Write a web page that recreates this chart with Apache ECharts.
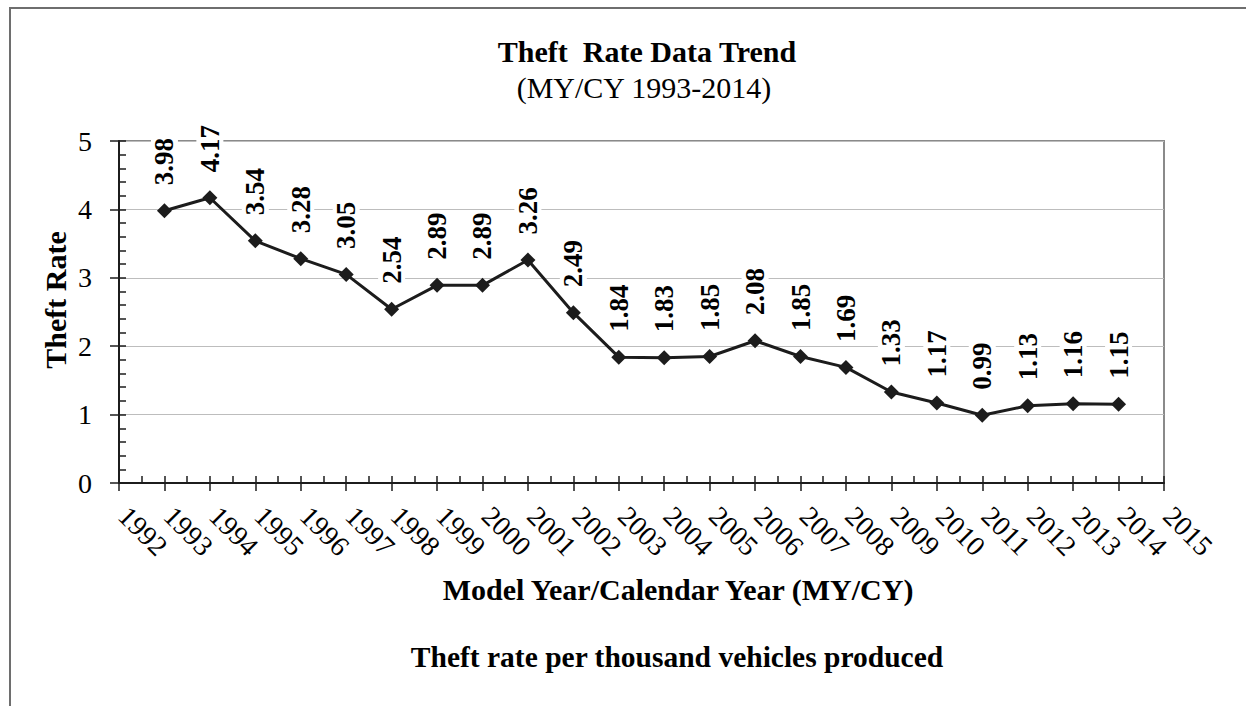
<!DOCTYPE html>
<html>
<head>
<meta charset="utf-8">
<script src="https://cdn.jsdelivr.net/npm/echarts@6/dist/echarts.min.js"></script>
<style>
  html, body { margin: 0; padding: 0; background: #fff; }
  #chart { width: 1246px; height: 706px; }
</style>
</head>
<body>
<div id="chart"></div>
<script>
// ---- Data ----
const years = [1993, 1994, 1995, 1996, 1997, 1998, 1999, 2000, 2001, 2002, 2003,
               2004, 2005, 2006, 2007, 2008, 2009, 2010, 2011, 2012, 2013, 2014];
const theftRates = [3.98, 4.17, 3.54, 3.28, 3.05, 2.54, 2.89, 2.89, 3.26, 2.49, 1.84,
                    1.83, 1.85, 2.08, 1.85, 1.69, 1.33, 1.17, 0.99, 1.13, 1.16, 1.15];
const xRange = [1992, 2015];
const yRange = [0, 5];
const titleText = 'Theft  Rate Data Trend';
const subtitleText = '(MY/CY 1993-2014)';
const yAxisTitle = 'Theft Rate';
const xAxisTitle = 'Model Year/Calendar Year (MY/CY)';
const footerText = 'Theft rate per thousand vehicles produced';

// ---- Chart ----
const FONT = "'Liberation Serif', 'Times New Roman', serif";
const DARK = '#1c1c1c';
const chart = echarts.init(document.getElementById('chart'), null, { renderer: 'svg' });

const seriesData = years.map((y, i) => [y, theftRates[i]]);

const option = {
  backgroundColor: '#ffffff',
  animation: false,
  grid: {
    left: 119, right: 82, top: 141, bottom: 223,
    show: true, borderColor: '#8a8a8a', borderWidth: 2, backgroundColor: 'transparent'
  },
  xAxis: [
    {
      type: 'value', min: xRange[0], max: xRange[1], interval: 1,
      axisLine: { show: true, onZero: false, lineStyle: { color: DARK, width: 2 } },
      axisTick: { show: true, inside: false, length: 8, lineStyle: { color: DARK, width: 1.5 } },
      minorTick: { show: false },
      splitLine: { show: false },
      axisLabel: {
        rotate: -45, margin: 24, padding: [0, 0, 0, 6],
        color: '#000', fontFamily: FONT, fontSize: 28,
        formatter: v => String(v)
      }
    },
    {
      type: 'value', min: xRange[0], max: xRange[1], interval: 1, position: 'bottom',
      axisLine: { show: false },
      axisTick: { show: true, inside: true, length: 7, lineStyle: { color: DARK, width: 1.5 } },
      minorTick: { show: true, splitNumber: 2, length: 7, lineStyle: { color: DARK, width: 1.5 } },
      splitLine: { show: false },
      axisLabel: { show: false }
    }
  ],
  yAxis: [
    {
      type: 'value', min: yRange[0], max: yRange[1], interval: 1, position: 'left',
      axisLine: { show: true, onZero: false, lineStyle: { color: DARK, width: 2 } },
      axisTick: { show: true, inside: false, length: 9, lineStyle: { color: DARK, width: 1.5 } },
      splitLine: { show: true, lineStyle: { color: '#bdbdbd', width: 1 } },
      axisLabel: { margin: 27, color: '#000', fontFamily: FONT, fontSize: 28 }
    },
    {
      type: 'value', min: yRange[0], max: yRange[1], interval: 1, position: 'left', offset: 0,
      axisLine: { show: false },
      axisTick: { show: true, inside: true, length: 7, lineStyle: { color: DARK, width: 1.5 } },
      minorTick: { show: true, splitNumber: 5, length: 7, lineStyle: { color: DARK, width: 1.5 } },
      splitLine: { show: false },
      axisLabel: { show: false }
    }
  ],
  series: [
    {
      type: 'line',
      xAxisIndex: 0, yAxisIndex: 0,
      data: seriesData,
      symbol: 'diamond', symbolSize: 15,
      itemStyle: { color: DARK },
      lineStyle: { color: DARK, width: 3 },
      label: {
        show: true, position: 'top', distance: 17, rotate: 90,
        align: 'left', verticalAlign: 'middle',
        color: '#000', fontFamily: FONT, fontSize: 27, fontWeight: 'bold',
        backgroundColor: '#ffffff', padding: [0, 1],
        formatter: p => p.value[1].toFixed(2)
      },
      z: 5
    }
  ],
  graphic: [
    {
      type: 'rect', silent: true, z: -10,
      shape: { x: 10, y: 8, width: 1400, height: 900 },
      style: { fill: 'none', stroke: '#6e6e6e', lineWidth: 2 }
    },
    {
      type: 'text', x: 647, y: 51,
      style: { text: titleText, fill: '#000', font: "bold 30px 'Liberation Serif', serif",
               lineHeight: 26, textAlign: 'center', textVerticalAlign: 'middle' }
    },
    {
      type: 'text', x: 644, y: 87,
      style: { text: subtitleText, fill: '#000', font: "30px 'Liberation Serif', serif",
               lineHeight: 26, textAlign: 'center', textVerticalAlign: 'middle' }
    },
    {
      type: 'text', x: 55, y: 300, rotation: Math.PI / 2,
      style: { text: yAxisTitle, fill: '#000', font: "bold 30px 'Liberation Serif', serif",
               textAlign: 'center', textVerticalAlign: 'middle' }
    },
    {
      type: 'text', x: 678, y: 589,
      style: { text: xAxisTitle, fill: '#000', font: "bold 30px 'Liberation Serif', serif",
               textAlign: 'center', textVerticalAlign: 'middle' }
    },
    {
      type: 'text', x: 677, y: 657,
      style: { text: footerText, fill: '#000', font: "bold 29.5px 'Liberation Serif', serif",
               textAlign: 'center', textVerticalAlign: 'middle' }
    }
  ]
};

chart.setOption(option);
</script>
</body>
</html>
